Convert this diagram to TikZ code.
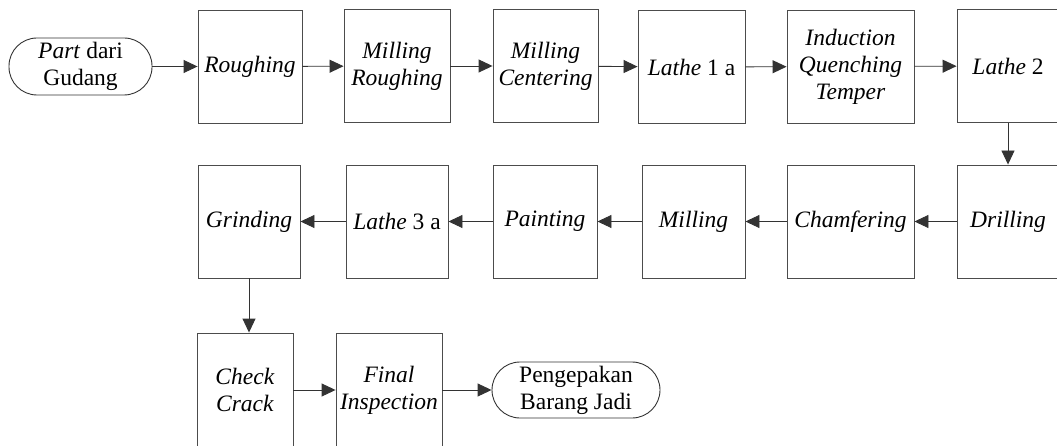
\documentclass[tikz,border=0pt]{standalone}
\usepackage{fontspec}
\setmainfont{Liberation Serif}
\usetikzlibrary{arrows.meta}
\begin{document}
\begin{tikzpicture}[x=1pt,y=-1pt,
  every node/.style={font=\fontsize{23.5}{27}\selectfont, align=center, inner sep=0pt},
  procbox/.style={draw=black!70, line width=0.9pt, rectangle, minimum height=113pt},
  termbox/.style={draw=black!80, line width=0.9pt, rectangle, rounded corners=28pt, minimum height=57pt},
  flow/.style={draw=black!80, line width=0.9pt, -{Triangle[length=14pt,width=13pt]}}]
\useasboundingbox (0,0) rectangle (1057,446);
\clip (0,0) rectangle (1057,446);

% first row
\node[termbox, minimum width=143pt] (start) at (80.5,66.5) {\textit{Part} dari\\Gudang};
\node[procbox, minimum width=104pt] (rough) at (250,66.5) {\textit{Roughing}};
\node[procbox, minimum width=106pt] (millr) at (397,66) {\textit{Milling}\\\textit{Roughing}};
\node[procbox, minimum width=105pt] (millc) at (545.5,66) {\textit{Milling}\\\textit{Centering}};
\node[procbox, minimum width=107pt] (lathe1) at (691.5,67) {\textit{Lathe} 1 a};
\node[procbox, minimum width=127pt] (induct) at (850.5,66.5) {\textit{Induction}\\\textit{Quenching}\\\textit{Temper}};
\node[procbox, minimum width=102pt] (lathe2) at (1008,66) {\textit{Lathe} 2};

% second row
\node[procbox, minimum width=102pt] (drill) at (1008,221.5) {\textit{Drilling}};
\node[procbox, minimum width=127pt] (chamf) at (850.5,221.5) {\textit{Chamfering}};
\node[procbox, minimum width=103pt] (mill) at (693.5,221.5) {\textit{Milling}};
\node[procbox, minimum width=104pt] (paint) at (545,221.5) {\textit{Painting}};
\node[procbox, minimum width=102pt] (lathe3) at (397,221.5) {\textit{Lathe} 3 a};
\node[procbox, minimum width=102pt] (grind) at (249,221.5) {\textit{Grinding}};

% third row
\node[procbox, minimum width=96pt, minimum height=114pt] (check) at (245,390) {\textit{Check}\\\textit{Crack}};
\node[procbox, minimum width=106pt, minimum height=114pt] (final) at (389,390) {\textit{Final}\\\textit{Inspection}};
\node[termbox, minimum width=168pt, minimum height=56pt] (finish) at (576,390) {Pengepakan\\Barang Jadi};

% connectors
\draw[flow] (start) -- (rough);
\draw[flow] (rough) -- (millr);
\draw[flow] (millr) -- (millc);
\draw[flow] (millc) -- (lathe1);
\draw[flow] (lathe1) -- (induct);
\draw[flow] (induct) -- (lathe2);
\draw[flow] (lathe2) -- (drill);
\draw[flow] (drill) -- (chamf);
\draw[flow] (chamf) -- (mill);
\draw[flow] (mill) -- (paint);
\draw[flow] (paint) -- (lathe3);
\draw[flow] (lathe3) -- (grind);
\draw[flow] (grind.south) -- (grind.south |- check.north);
\draw[flow] (check) -- (final);
\draw[flow] (final) -- (finish);
\end{tikzpicture}
\end{document}
